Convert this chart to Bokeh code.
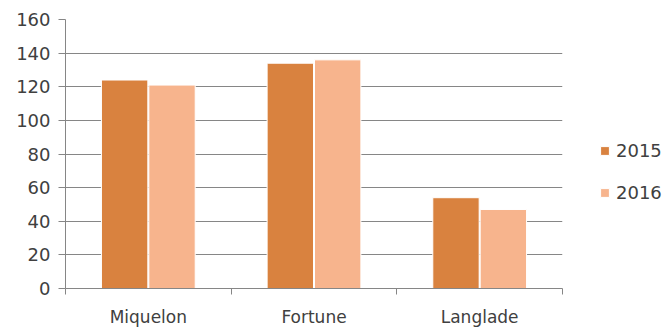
from bokeh.plotting import figure
from bokeh.models import ColumnDataSource, FixedTicker, Legend, LegendItem, Range1d
from bokeh.embed import file_html
from bokeh.resources import INLINE

categories = ["Miquelon", "Fortune", "Langlade"]
series_names = ["2015", "2016"]
values_2015 = [124, 134, 54]
values_2016 = [121, 136, 47]
y_ticks = [0, 20, 40, 60, 80, 100, 120, 140, 160]

colors = ["#D9823F", "#F7B48D"]
FONT = "DejaVu Sans"
TXT = "#404040"

centers = [i + 0.5 for i in range(len(categories))]

p = figure(frame_width=497, frame_height=269, output_backend="svg", toolbar_location=None,
           x_range=Range1d(0, len(categories)), y_range=Range1d(0, 160),
           min_border_left=65, min_border_right=0, min_border_top=19, min_border_bottom=39)
p.outline_line_color = None
p.background_fill_color = "white"
p.border_fill_color = "white"

renderers = []
for name, vals, col, off in [(series_names[0], values_2015, colors[0], -0.143),
                             (series_names[1], values_2016, colors[1], 0.143)]:
    src = ColumnDataSource(dict(x=[c + off for c in centers], top=vals))
    r = p.vbar(x="x", top="top", width=0.28, bottom=0, source=src,
               fill_color=col, line_color="white", line_width=1)
    renderers.append((name, r))

# y axis
p.yaxis.ticker = FixedTicker(ticks=y_ticks)
p.yaxis.axis_line_color = "#868686"
p.yaxis.major_tick_line_color = "#868686"
p.yaxis.major_tick_out = 7
p.yaxis.major_tick_in = 0
p.yaxis.minor_tick_line_color = None
p.yaxis.major_label_text_font = FONT
p.yaxis.major_label_text_font_size = "18px"
p.yaxis.major_label_text_color = TXT
p.yaxis.major_label_standoff = 8

# x axis
p.xaxis.ticker = FixedTicker(ticks=centers, minor_ticks=list(range(len(categories) + 1)))
p.xaxis.major_label_overrides = {c: lab for c, lab in zip(centers, categories)}
p.xaxis.major_tick_line_color = None
p.xaxis.major_tick_out = 6
p.xaxis.minor_tick_line_color = "#868686"
p.xaxis.minor_tick_out = 6
p.xaxis.minor_tick_in = 0
p.xaxis.axis_line_color = "#868686"
p.xaxis.major_label_text_font = FONT
p.xaxis.major_label_text_font_size = "17px"
p.xaxis.major_label_text_color = TXT
p.xaxis.major_label_standoff = 12

p.xgrid.grid_line_color = None
p.ygrid.grid_line_color = "#868686"
p.ygrid.grid_line_width = 1

legend = Legend(items=[LegendItem(label=n, renderers=[r]) for n, r in renderers],
                location=(37, 85), orientation="vertical",
                glyph_width=11, glyph_height=11, label_standoff=6, spacing=21,
                label_text_font=FONT, label_text_font_size="18px", label_text_color=TXT,
                border_line_color=None, background_fill_alpha=0, padding=0, margin=0)
p.add_layout(legend, "right")

open("out.html", "w").write(file_html(p, INLINE))
